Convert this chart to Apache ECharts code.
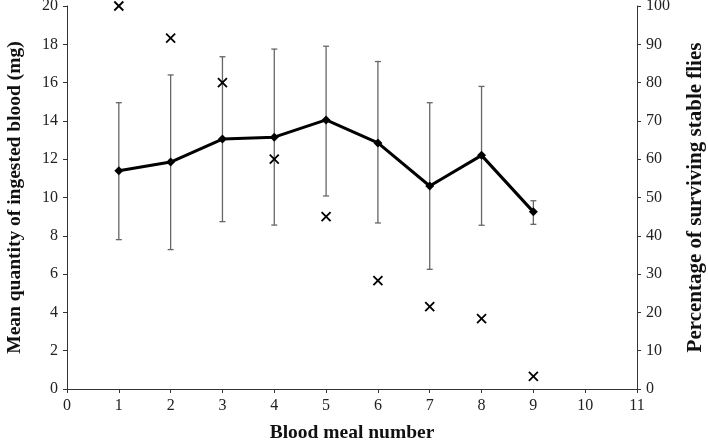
<!DOCTYPE html>
<html><head><meta charset="utf-8">
<script src="https://cdn.jsdelivr.net/npm/echarts@6/dist/echarts.min.js"></script>
<style>html,body{margin:0;padding:0;background:#fff}#c{width:708px;height:444px}</style>
</head><body><div id="c"></div>
<script>
var mealNumbers = [1, 2, 3, 4, 5, 6, 7, 8, 9];
var meanBlood = [11.4, 11.85, 13.05, 13.15, 14.05, 12.85, 10.6, 12.2, 9.25];
var errUpper = [14.95, 16.4, 17.35, 17.75, 17.9, 17.1, 14.95, 15.8, 9.83];
var errLower = [7.8, 7.28, 8.74, 8.56, 10.08, 8.67, 6.25, 8.55, 8.6];
var survival = [100, 91.6, 80, 60, 45, 28.3, 21.5, 18.4, 3.3];

var font = 'Liberation Serif';
var chart = echarts.init(document.getElementById('c'));

var lineData = mealNumbers.map(function (x, i) { return [x, meanBlood[i]]; });
var errData = mealNumbers.map(function (x, i) { return [x, errLower[i], errUpper[i]]; });
var survData = mealNumbers.map(function (x, i) { return [x, survival[i]]; });

var nameStyle = { fontFamily: font, fontSize: 19.5, fontWeight: 'bold', color: '#111' };
var labelStyle = { fontFamily: font, fontSize: 16, color: '#222', margin: 9 };

chart.setOption({
  animation: false,
  grid: { left: 67, right: 71, top: 6, bottom: 55, outerBoundsMode: 'none', containLabel: false },
  xAxis: {
    type: 'value', min: 0, max: 11, interval: 1,
    name: 'Blood meal number', nameLocation: 'middle', nameGap: 34,
    nameTextStyle: nameStyle,
    axisLine: { lineStyle: { color: '#333', width: 1 } },
    axisTick: { lineStyle: { color: '#333' }, length: 4 },
    axisLabel: labelStyle,
    splitLine: { show: false }
  },
  yAxis: [{
    type: 'value', min: 0, max: 20, interval: 2, position: 'left',
    name: 'Mean quantity of ingested blood (mg)', nameLocation: 'middle', nameGap: 42,
    nameTextStyle: nameStyle,
    axisLine: { show: true, lineStyle: { color: '#333', width: 1 } },
    axisTick: { show: true, lineStyle: { color: '#333' }, length: 4 },
    axisLabel: labelStyle,
    splitLine: { show: false }
  }, {
    type: 'value', min: 0, max: 100, interval: 10, position: 'right',
    name: 'Percentage of surviving stable flies', nameLocation: 'middle', nameGap: 48,
    nameTextStyle: { fontFamily: font, fontSize: 21, fontWeight: 'bold', color: '#111' },
    axisLine: { show: true, lineStyle: { color: '#333', width: 1 } },
    axisTick: { show: true, lineStyle: { color: '#333' }, length: 4 },
    axisLabel: labelStyle,
    splitLine: { show: false }
  }],
  series: [{
    type: 'custom', yAxisIndex: 0, z: 1,
    data: errData,
    renderItem: function (params, api) {
      var x = api.value(0);
      var lo = api.coord([x, api.value(1)]);
      var hi = api.coord([x, api.value(2)]);
      var w = 3;
      var st = { stroke: '#666', lineWidth: 1.3 };
      return { type: 'group', children: [
        { type: 'line', shape: { x1: lo[0], y1: lo[1], x2: hi[0], y2: hi[1] }, style: st },
        { type: 'line', shape: { x1: lo[0] - w, y1: lo[1], x2: lo[0] + w, y2: lo[1] }, style: st },
        { type: 'line', shape: { x1: hi[0] - w, y1: hi[1], x2: hi[0] + w, y2: hi[1] }, style: st }
      ]};
    }
  }, {
    type: 'line', yAxisIndex: 0, z: 3,
    data: lineData,
    lineStyle: { color: '#000', width: 3 },
    itemStyle: { color: '#000' },
    symbol: 'diamond', symbolSize: 9, showSymbol: true
  }, {
    type: 'custom', yAxisIndex: 1, z: 4,
    data: survData,
    renderItem: function (params, api) {
      var p = api.coord([api.value(0), api.value(1)]);
      var s = 4.5;
      var st = { stroke: '#000', lineWidth: 1.8 };
      return { type: 'group', children: [
        { type: 'line', shape: { x1: p[0] - s, y1: p[1] - s, x2: p[0] + s, y2: p[1] + s }, style: st },
        { type: 'line', shape: { x1: p[0] - s, y1: p[1] + s, x2: p[0] + s, y2: p[1] - s }, style: st }
      ]};
    }
  }]
});
</script></body></html>
